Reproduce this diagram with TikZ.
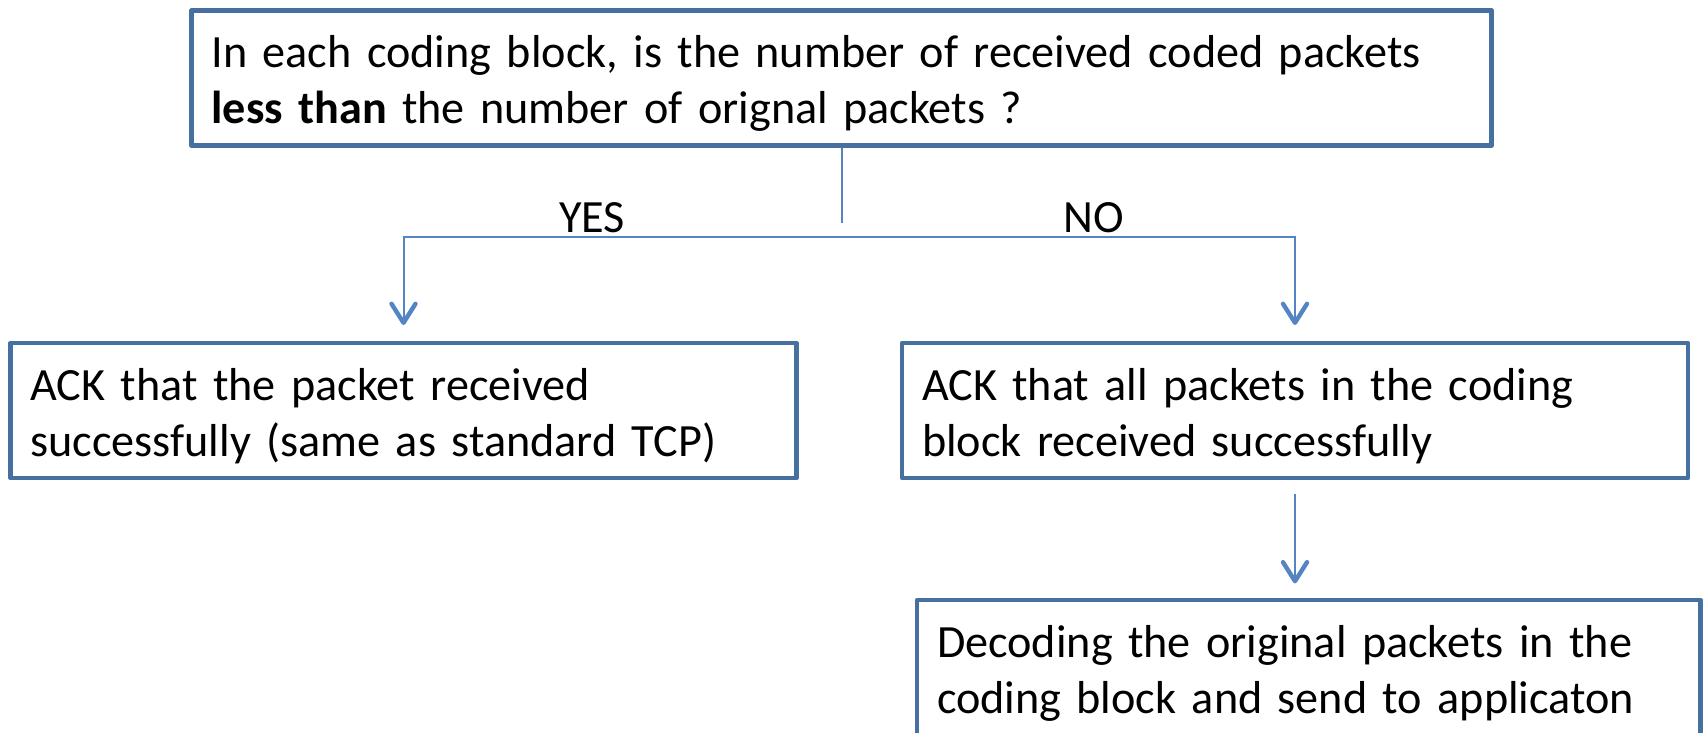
\documentclass[tikz,border=0pt]{standalone}
\usepackage{fontspec}
\setmainfont{Carlito}
\usetikzlibrary{arrows.meta}
\definecolor{boxline}{RGB}{70,112,160}
\definecolor{linkline}{RGB}{84,133,194}
\tikzset{
  stepbox/.style={draw=boxline, line width=2.4pt, line join=round, fill=white,
    outer sep=0pt, inner xsep=10pt, inner ysep=0pt, minimum height=67.5pt,
    align=left, text height=12pt, text depth=22pt,
    font=\fontsize{23.1}{27.9}\selectfont},
  link/.style={draw=linkline, line width=1pt},
  tip/.style={-{Straight Barb[length=9.5pt,width=12pt,line width=2.2pt,round]}},
  answer/.style={font=\fontsize{23.1}{27.9}\selectfont, inner sep=0pt, anchor=base},
}
\begin{document}
\begin{tikzpicture}[x=0.5pt,y=-0.5pt]
\clip (0,0) rectangle (1704,733);

% decision box and its outcomes
\node[stepbox, text width=630pt, minimum width=650pt] (query) at (841.5,78)
  {In each coding block, is the number of received coded packets\\\textbf{less than} the number of orignal packets ?};
\node[stepbox, text width=373pt, minimum width=393pt] (ackone) at (403.5,410.5)
  {ACK that the packet received\\successfully (same as standard TCP)};
\node[stepbox, text width=373pt, minimum width=393pt] (ackall) at (1295,410.5)
  {ACK that all packets in the coding\\block received successfully};
\node[stepbox, text width=371.75pt, minimum width=391.75pt] (decode) at (1308.75,667.5)
  {Decoding the original packets in the\\coding block and send to applicaton};

% connectors
\coordinate (stemend) at (841.5,223);
\coordinate (fork) at (841.5,237);
\draw[link, shorten <=1.2pt] (query.south) -- (stemend);
\draw[link, tip, shorten >=9pt] (fork) -| (ackone.north);
\draw[link, tip, shorten >=9pt] (fork) -| (ackall.north);
\draw[link, tip, shorten <=8pt, shorten >=8.3pt] (ackall.south) -- (ackall.south |- decode.north);

% branch labels
\node[answer] (yes) at (592,233) {YES};
\node[answer] (no) at (1094,233) {NO};
\end{tikzpicture}
\end{document}
